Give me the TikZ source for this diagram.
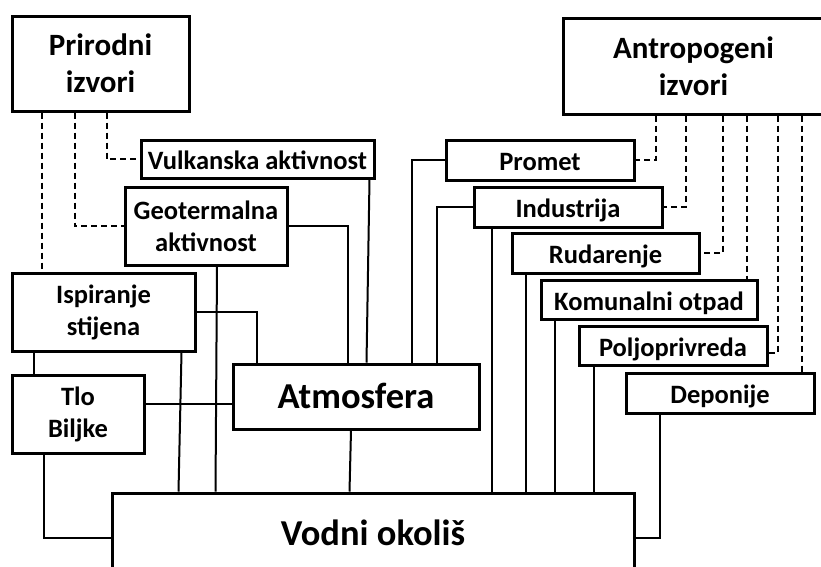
\documentclass[tikz,border=0pt]{standalone}
\usepackage{fontspec}
\setmainfont{Carlito}
\usepackage{tikz}

\begin{document}
\begin{tikzpicture}[x=1pt,y=-1pt]
	\tikzstyle{box}=[draw,line width=3pt,inner sep=0pt,align=center]
	\tikzstyle{small}=[box,font=\bfseries\fontsize{26.5}{32}\selectfont]
	\tikzstyle{oneline}=[small,text height=21pt,text depth=0pt]
	\tikzstyle{big}=[box,font=\bfseries\fontsize{31}{37}\selectfont]
	\tikzstyle{huge}=[box,font=\bfseries\fontsize{36.5}{44}\selectfont,text height=25pt,text depth=2pt]
	\tikzstyle{conn}=[line width=2pt]
	\tikzstyle{dconn}=[line width=2pt,dash pattern=on 6pt off 4pt]

	\useasboundingbox (0,0) rectangle (821,566);

	% sources
	\node[big]     (Nat)  at (100.5,63.5) [minimum width=177pt,minimum height=95pt] {Prirodni\\izvori};
	\node[big]     (Ant)  at (693.5,66)   [minimum width=261pt,minimum height=96pt] {Antropogeni\\izvori};

	% natural
	\node[oneline] (Vul)  at (257.5,159)  [minimum width=233pt,minimum height=38pt] {Vulkanska aktivnost};
	\node[small]   (Geo)  at (206,226)    [minimum width=162pt,minimum height=78pt] {Geotermalna\\aktivnost};
	\node[small]   (Isp)  at (103.5,312)  [minimum width=183pt,minimum height=78pt] {Ispiranje\\stijena};
	\node[small]   (Tlo)  at (78,414)     [minimum width=132pt,minimum height=78pt] {Tlo\\Biljke};

	% anthropogenic
	\node[oneline] (Pro)  at (540,160)    [minimum width=188pt,minimum height=40pt] {Promet};
	\node[oneline] (Ind)  at (568,207)    [minimum width=188pt,minimum height=40pt] {Industrija};
	\node[oneline] (Rud)  at (605.5,253)  [minimum width=187pt,minimum height=40pt] {Rudarenje};
	\node[oneline] (Kom)  at (649,299.5)  [minimum width=216pt,minimum height=39pt] {Komunalni otpad};
	\node[oneline] (Pol)  at (673,345.5)  [minimum width=188pt,minimum height=39pt] {Poljoprivreda};
	\node[oneline] (Dep)  at (720,393)    [minimum width=188pt,minimum height=40pt] {Deponije};

	% sinks
	\node[huge]    (Atm)  at (356,396.5)  [minimum width=246pt,minimum height=65pt] {Atmosfera};
	\node[huge]    (Vod)  at (373,534)    [minimum width=522pt,minimum height=82pt] {Vodni okoliš};

	% dashed: Prirodni izvori
	\draw[dconn] ([xshift=31pt]Nat.south west) -- ([xshift=31pt]Isp.north west);
	\draw[dconn] ([xshift=64pt]Nat.south west) |- (Geo.west);
	\draw[dconn] ([xshift=96pt]Nat.south west) |- (Vul.west);

	% dashed: Antropogeni izvori
	\draw[dconn] ([xshift=94pt]Ant.south west)  |- (Pro.east);
	\draw[dconn] ([xshift=124pt]Ant.south west) |- (Ind.east);
	\draw[dconn] ([xshift=161pt]Ant.south west) |- (Rud.east);
	\draw[dconn] ([xshift=185pt]Ant.south west) -- ([xshift=207pt]Kom.north west);
	\draw[dconn] ([xshift=216pt]Ant.south west) |- ([yshift=-7.5pt]Pol.east);
	\draw[dconn] ([xshift=240pt]Ant.south west) -- ([xshift=177pt]Dep.north west);

	% into Atmosfera
	\draw[conn] ([xshift=-6pt]Vul.south east) -- ([xshift=135pt]Atm.north west);
	\draw[conn] (Geo.east) -| ([xshift=116pt]Atm.north west);
	\draw[conn] (Isp.east) -| ([xshift=25pt]Atm.north west);
	\draw[conn] ([yshift=10pt]Tlo.east) -- ([yshift=-7.5pt]Atm.west);
	\draw[conn] (Pro.west) -| ([xshift=180pt]Atm.north west);
	\draw[conn] (Ind.west) -| ([xshift=205pt]Atm.north west);

	% into Vodni okolis
	\draw[conn] ([xshift=11pt]Geo.south) -- ([xshift=105pt]Vod.north west);
	\draw[conn] ([xshift=-15pt]Isp.south east) -- ([xshift=68pt]Vod.north west);
	\draw[conn] ([xshift=23pt]Isp.south west) -- ([xshift=23pt]Tlo.north west);
	\draw[conn] ([xshift=33pt]Tlo.south west) |- ([yshift=-4pt]Vod.west);
	\draw[conn] ([xshift=-5pt]Atm.south) -- ([xshift=239pt]Vod.north west);
	\draw[conn] ([xshift=19pt]Ind.south west) -- ([xshift=381pt]Vod.north west);
	\draw[conn] ([xshift=15pt]Rud.south west) -- ([xshift=415pt]Vod.north west);
	\draw[conn] ([xshift=15pt]Kom.south west) -- ([xshift=444pt]Vod.north west);
	\draw[conn] ([xshift=16pt]Pol.south west) -- ([xshift=483pt]Vod.north west);
	\draw[conn] ([xshift=35pt]Dep.south west) |- ([yshift=-4pt]Vod.east);
\end{tikzpicture}
\end{document}
